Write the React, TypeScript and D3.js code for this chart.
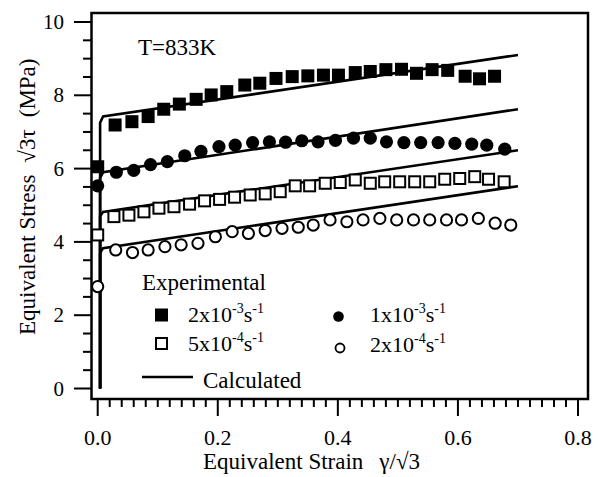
import React from "react";
import * as d3 from "d3";

// ---- data ----
const rateLabels = ["2x10", "1x10", "5x10", "2x10"];
const rateExps = ["-3", "-3", "-4", "-4"];

const strain2e3 = [0.0, 0.029, 0.057, 0.084, 0.11, 0.136, 0.164, 0.189, 0.215, 0.245, 0.27, 0.297, 0.324, 0.35, 0.376, 0.401, 0.429, 0.454, 0.48, 0.506, 0.531, 0.557, 0.583, 0.612, 0.636, 0.661];
const stress2e3 = [6.05, 7.19, 7.28, 7.42, 7.62, 7.76, 7.89, 8.01, 8.1, 8.28, 8.33, 8.46, 8.51, 8.53, 8.55, 8.55, 8.62, 8.65, 8.7, 8.71, 8.6, 8.7, 8.68, 8.52, 8.45, 8.52];

const strain1e3 = [0.0, 0.031, 0.06, 0.088, 0.116, 0.145, 0.172, 0.202, 0.229, 0.258, 0.286, 0.313, 0.34, 0.367, 0.396, 0.426, 0.454, 0.481, 0.51, 0.538, 0.567, 0.595, 0.623, 0.648, 0.678];
const stress1e3 = [5.53, 5.9, 5.95, 6.11, 6.19, 6.35, 6.47, 6.6, 6.64, 6.71, 6.73, 6.72, 6.76, 6.73, 6.77, 6.83, 6.83, 6.73, 6.71, 6.71, 6.71, 6.69, 6.67, 6.64, 6.53];

const strain5e4 = [0.0, 0.027, 0.052, 0.077, 0.102, 0.127, 0.153, 0.178, 0.203, 0.228, 0.254, 0.279, 0.304, 0.329, 0.353, 0.379, 0.404, 0.429, 0.454, 0.478, 0.503, 0.528, 0.553, 0.578, 0.603, 0.628, 0.651, 0.677];
const stress5e4 = [4.19, 4.69, 4.73, 4.82, 4.92, 4.96, 5.03, 5.12, 5.16, 5.22, 5.28, 5.31, 5.37, 5.53, 5.53, 5.6, 5.62, 5.69, 5.6, 5.64, 5.64, 5.64, 5.64, 5.71, 5.73, 5.78, 5.71, 5.64];

const strain2e4 = [0.0, 0.03, 0.058, 0.084, 0.112, 0.139, 0.167, 0.196, 0.224, 0.251, 0.279, 0.307, 0.334, 0.359, 0.387, 0.415, 0.442, 0.47, 0.498, 0.526, 0.553, 0.581, 0.606, 0.634, 0.662, 0.688];
const stress2e4 = [2.78, 3.78, 3.71, 3.78, 3.87, 3.92, 3.96, 4.14, 4.28, 4.23, 4.31, 4.37, 4.4, 4.46, 4.6, 4.55, 4.6, 4.64, 4.6, 4.6, 4.6, 4.6, 4.6, 4.64, 4.51, 4.46];

// calculated curves: strain / stress points
const calcStrain = [0.004, 0.004, 0.009, 0.7];
const calc2e3 = [0, 7.25, 7.42, 9.1];
const calc1e3 = [0, 5.75, 5.9, 7.62];
const calc5e4 = [0, 4.7, 4.82, 6.5];
const calc2e4 = [0, 3.7, 3.83, 5.52];

const xTicks = [0, 0.2, 0.4, 0.6, 0.8];
const yTicks = [0, 2, 4, 6, 8, 10];

const FONT = "'Liberation Serif', 'Times New Roman', 'DejaVu Serif', serif";
const T = { fontFamily: FONT };

export default function App() {
  const x = d3.scaleLinear().domain([0, 0.8]).range([97.7, 578]);
  const y = d3.scaleLinear().domain([0, 10]).range([388.5, 22]);

  const frame = { l: 91.5, t: 13, r: 588, b: 399 };

  const line = d3
    .line<[number, number]>()
    .x((d) => x(d[0]))
    .y((d) => y(d[1]))
    .curve(d3.curveLinear);

  const calcs = [calc2e3, calc1e3, calc5e4, calc2e4].map((s) =>
    calcStrain.map((e, i) => [e, s[i]] as [number, number])
  );

  const minorY = d3.range(0, 10.001, 0.5).filter((v) => Math.abs(v / 2 - Math.round(v / 2)) > 1e-6);
  const minorX = d3.range(0, 0.8001, 0.02).filter((v) => Math.abs(v / 0.2 - Math.round(v / 0.2)) > 1e-6);

  const sq = 13;
  const osq = 11;

  const sup = (base: string, exp: string) => (
    <>
      {base}
      <tspan fontSize={14} dy={-9}>{exp}</tspan>
      <tspan fontSize={22} dy={9}>s</tspan>
      <tspan fontSize={14} dy={-9}>-1</tspan>
    </>
  );

  return (
    <svg
      width={602}
      height={477}
      style={{ position: "fixed", left: 0, top: 0, background: "#fff", fontFamily: FONT }}
    >
      <rect x={0} y={0} width={602} height={477} fill="#fff" />
      {/* frame */}
      <rect
        x={frame.l}
        y={frame.t}
        width={frame.r - frame.l}
        height={frame.b - frame.t}
        fill="none"
        stroke="#000"
        strokeWidth={2.5}
      />
      {/* y ticks */}
      {yTicks.map((v) => (
        <line key={"yt" + v} x1={74} x2={frame.l} y1={y(v)} y2={y(v)} stroke="#000" strokeWidth={2} />
      ))}
      {minorY.map((v) => (
        <line key={"ym" + v} x1={83} x2={frame.l} y1={y(v)} y2={y(v)} stroke="#000" strokeWidth={2} />
      ))}
      {yTicks.map((v) => (
        <text key={"yl" + v} x={64} y={y(v) + 7} fontSize={21} textAnchor="end" style={T}>
          {v}
        </text>
      ))}
      {/* x ticks */}
      {xTicks.map((v) => (
        <line key={"xt" + v} x1={x(v)} x2={x(v)} y1={frame.b} y2={416} stroke="#000" strokeWidth={2} />
      ))}
      {minorX.map((v) => (
        <line key={"xm" + v} x1={x(v)} x2={x(v)} y1={frame.b} y2={407} stroke="#000" strokeWidth={2} />
      ))}
      {xTicks.map((v) => (
        <text key={"xl" + v} x={x(v)} y={445} fontSize={22} textAnchor="middle" style={T}>
          {v.toFixed(1)}
        </text>
      ))}

      {/* axis titles */}
      <text x={203} y={469} fontSize={23} style={T}>
        Equivalent Strain
        <tspan dx={16}>γ/√3</tspan>
      </text>
      <text transform="translate(35,335) rotate(-90)" fontSize={23} style={T}>
        Equivalent Stress
        <tspan dx={12}>√3τ</tspan>
        <tspan dx={12}>(MPa)</tspan>
      </text>

      <text x={138} y={55} fontSize={23} style={T}>
        T=833K
      </text>

      {/* calculated lines */}
      {calcs.map((c, i) => (
        <path key={"c" + i} d={line(c) || ""} fill="none" stroke="#000" strokeWidth={2.6} />
      ))}

      {/* experimental markers */}
      {strain2e3.map((e, i) => (
        <rect key={"a" + i} x={x(e) - sq / 2} y={y(stress2e3[i]) - sq / 2} width={sq} height={sq} fill="#000" />
      ))}
      {strain1e3.map((e, i) => (
        <circle key={"b" + i} cx={x(e)} cy={y(stress1e3[i])} r={6.6} fill="#000" />
      ))}
      {strain5e4.map((e, i) => (
        <rect
          key={"c" + i}
          x={x(e) - osq / 2}
          y={y(stress5e4[i]) - osq / 2}
          width={osq}
          height={osq}
          fill="#fff"
          stroke="#000"
          strokeWidth={2}
        />
      ))}
      {strain2e4.map((e, i) => (
        <circle key={"d" + i} cx={x(e)} cy={y(stress2e4[i])} r={5.6} fill="#fff" stroke="#000" strokeWidth={2} />
      ))}

      {/* legend */}
      <text x={142} y={290} fontSize={23} style={T}>
        Experimental
      </text>
      <rect x={155} y={308.5} width={13} height={13} fill="#000" />
      <text x={188} y={322} fontSize={22} style={T}>
        {sup(rateLabels[0], rateExps[0])}
      </text>
      <rect x={156} y={338} width={11} height={11} fill="#fff" stroke="#000" strokeWidth={2} />
      <text x={188} y={351} fontSize={22} style={T}>
        {sup(rateLabels[2], rateExps[2])}
      </text>
      <circle cx={338.5} cy={316.5} r={5.3} fill="#000" />
      <text x={370} y={322} fontSize={22} style={T}>
        {sup(rateLabels[1], rateExps[1])}
      </text>
      <circle cx={340} cy={348} r={4.5} fill="#fff" stroke="#000" strokeWidth={1.8} />
      <text x={370} y={352} fontSize={22} style={T}>
        {sup(rateLabels[3], rateExps[3])}
      </text>
      <line x1={142} x2={193} y1={377} y2={377} stroke="#000" strokeWidth={2.5} />
      <text x={203} y={388} fontSize={23} style={T}>
        Calculated
      </text>
    </svg>
  );
}
